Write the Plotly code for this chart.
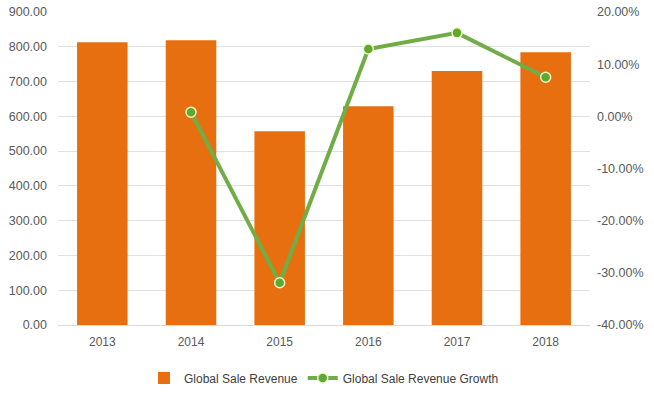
import plotly.graph_objects as go

years = ["2013", "2014", "2015", "2016", "2017", "2018"]
revenue = [813, 819, 557, 629, 730, 784]
growth_years = ["2014", "2015", "2016", "2017", "2018"]
growth = [0.8, -31.9, 12.9, 16.0, 7.5]

left_ticks = [0, 100, 200, 300, 400, 500, 600, 700, 800, 900]
right_ticks = [-40, -30, -20, -10, 0, 10, 20]

fig = go.Figure()
fig.add_trace(go.Bar(
    x=years, y=revenue, name="Global Sale Revenue",
    marker=dict(color="#E86F10", line=dict(width=0)),
    width=0.57,
))
fig.add_trace(go.Scatter(
    x=growth_years, y=growth, name="Global Sale Revenue Growth",
    yaxis="y2", mode="lines+markers",
    line=dict(color="#70AD47", width=4),
    marker=dict(color="#5DAA2E", size=10, line=dict(color="#F2F2C8", width=1.5)),
))

font = "Liberation Sans, Arial, sans-serif"
fig.update_layout(
    width=654, height=396,
    margin=dict(l=58, r=64, t=12, b=71, autoexpand=False),
    paper_bgcolor="white", plot_bgcolor="white",
    font=dict(family=font, size=12, color="#595959"),
    bargap=0.43,
    showlegend=True,
    legend=dict(orientation="h", x=0.5, xanchor="center", y=-0.169, yanchor="middle",
                font=dict(size=12, color="#404040"), itemwidth=30, traceorder="normal"),
    xaxis=dict(type="category", showgrid=False, showline=True, linecolor="#D9D9D9",
               ticks="", ticklabelstandoff=6, tickfont=dict(size=12, color="#595959")),
    yaxis=dict(range=[0, 900], tickvals=left_ticks,
               ticktext=[f"{v:.2f}" for v in left_ticks],
               gridcolor="#E0E0E0", zeroline=False, showline=False,
               ticks="", ticklabelstandoff=10,
               tickfont=dict(size=12.5, color="#595959")),
    yaxis2=dict(range=[-40, 20], tickvals=right_ticks,
                ticktext=[f"{v:.2f}%" for v in right_ticks],
                overlaying="y", side="right", showgrid=False, zeroline=False,
                ticks="", ticklabelstandoff=6,
                tickfont=dict(size=12.5, color="#595959")),
)

fig.write_html("out.html", config={"displayModeBar": False},
               post_script="document.body.style.margin='0';")
